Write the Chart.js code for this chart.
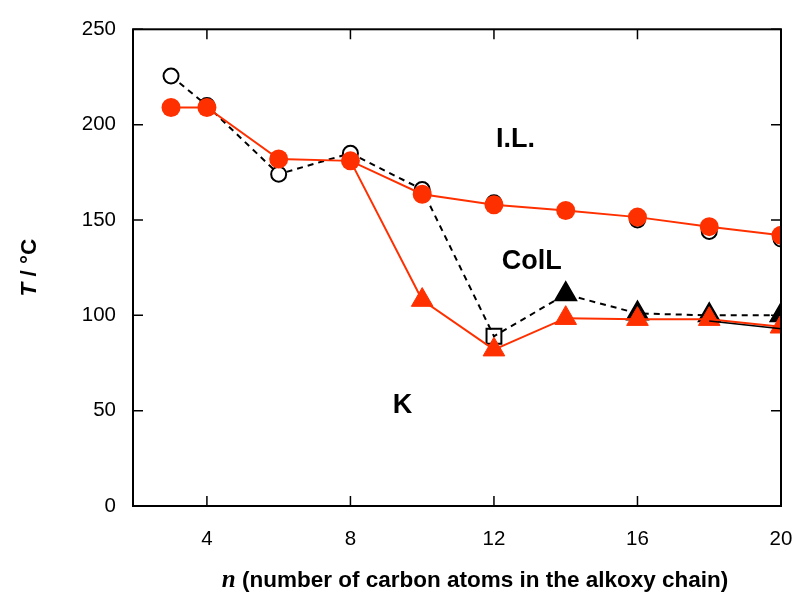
<!DOCTYPE html>
<html lang="en">
<head>
    <meta charset="UTF-8">
    <title>Phase diagram</title>
    <script src="https://cdn.jsdelivr.net/npm/chart.js"></script>
    <style>
        body {
            margin: 0;
            background-color: #ffffff;
        }
        #wrap {
            width: 797px;
            height: 603px;
        }
    </style>
</head>
<body>
    <div id="wrap"><canvas id="myChart" width="797" height="603"></canvas></div>
    <script>
        // carbon numbers
        const nAll = [3, 4, 6, 8, 10, 12, 14, 16, 18, 20];
        // open circles (clearing, first series)
        const clearOpen = [225.5, 210, 174, 185, 166, 159, 155, 150, 144, 140];
        // dashed black path (clearing then melting)
        const dashedT = [225.5, 210, 174, 185, 166, 89, 111, 101, 100, 100];
        // open square
        const squareN = [12];
        const squareT = [89];
        // black filled triangles
        const triBlackN = [14, 16, 18, 20];
        const triBlackT = [111, 101, 100, 100];
        // red filled circles
        const redCircT = [209, 209, 182, 181, 163.5, 158, 155, 151.5, 146.5, 142];
        // red triangles (line starts from red circle at n = 8)
        const redTriN = [8, 10, 12, 14, 16, 18, 20];
        const redTriT = [181, 108, 82, 98.5, 98, 98, 94];
        // black solid segment
        const solidN = [18, 20];
        const solidT = [97, 93];

        const xTicks = [4, 8, 12, 16, 20];
        const yTicks = [0, 50, 100, 150, 200, 250];

        const phaseLabels = ['I.L.', 'ColL', 'K'];
        const phaseN = [12.6, 13.05, 9.45];
        const phaseT = [192, 128, 52.5];

        const red = '#ff3000';
        const pts = (xs, ys) => xs.map((x, i) => ({ x: x, y: ys[i] }));

        const framePlugin = {
            id: 'frame',
            afterDatasetsDraw(chart) {
                const c = chart.ctx;
                const a = chart.chartArea;
                const sx = chart.scales.x, sy = chart.scales.y;
                c.save();
                c.strokeStyle = '#000';
                c.lineWidth = 2;
                c.strokeRect(a.left, a.top, a.right - a.left, a.bottom - a.top);
                c.lineWidth = 1.5;
                const len = 10;
                c.beginPath();
                xTicks.forEach(v => {
                    const px = sx.getPixelForValue(v);
                    c.moveTo(px, a.bottom); c.lineTo(px, a.bottom - len);
                    c.moveTo(px, a.top); c.lineTo(px, a.top + len);
                });
                yTicks.forEach(v => {
                    const py = sy.getPixelForValue(v);
                    c.moveTo(a.left, py); c.lineTo(a.left + len, py);
                    c.moveTo(a.right, py); c.lineTo(a.right - len, py);
                });
                c.stroke();

                // phase labels
                c.fillStyle = '#000';
                c.font = 'bold 27px "Liberation Sans", Arial, sans-serif';
                c.textAlign = 'center';
                c.textBaseline = 'middle';
                phaseLabels.forEach((t, i) => {
                    c.fillText(t, sx.getPixelForValue(phaseN[i]), sy.getPixelForValue(phaseT[i]));
                });

                // x title
                const xTitleSans = ' (number of carbon atoms in the alkoxy chain)';
                const fSans = 'bold 22.5px "Liberation Sans", Arial, sans-serif';
                const fSerif = 'italic bold 25px "Liberation Serif", "Times New Roman", serif';
                c.font = fSerif;
                const wN = c.measureText('n').width;
                c.font = fSans;
                const wRest = c.measureText(xTitleSans).width;
                const cx = (a.left + a.right) / 2 + 18;
                let x0 = cx - (wN + wRest) / 2;
                c.textAlign = 'left';
                c.textBaseline = 'alphabetic';
                c.font = fSerif;
                c.fillText('n', x0, 587);
                c.font = fSans;
                c.fillText(xTitleSans, x0 + wN, 587);

                // y title
                c.save();
                c.translate(36, (a.top + a.bottom) / 2);
                c.rotate(-Math.PI / 2);
                const fIt = 'italic bold 22.5px "Liberation Sans", Arial, sans-serif';
                const fUp = 'bold 22.5px "Liberation Sans", Arial, sans-serif';
                c.font = fIt;
                const wT = c.measureText('T').width;
                c.font = fUp;
                const wU = c.measureText(' / \u00B0C').width;
                let y0 = -(wT + wU) / 2;
                c.font = fIt;
                c.fillText('T', y0, 0);
                c.font = fUp;
                c.fillText(' / \u00B0C', y0 + wT, 0);
                c.restore();
                c.restore();
            }
        };

        const ctx = document.getElementById('myChart').getContext('2d');
        const myChart = new Chart(ctx, {
            type: 'scatter',
            data: {
                datasets: [
                    {
                        data: pts(nAll, dashedT),
                        showLine: true,
                        borderColor: '#000',
                        borderWidth: 2,
                        borderDash: [6, 5],
                        pointRadius: 0,
                        order: 6
                    },
                    {
                        data: pts(nAll, clearOpen),
                        showLine: false,
                        pointRadius: 7.5,
                        pointBorderWidth: 2,
                        pointBackgroundColor: '#fff',
                        pointBorderColor: '#000',
                        order: 5
                    },
                    {
                        data: pts(squareN, squareT),
                        showLine: false,
                        pointStyle: 'rect',
                        pointRadius: 10.5,
                        pointBorderWidth: 2,
                        pointBackgroundColor: 'rgba(255,255,255,0)',
                        pointBorderColor: '#000',
                        order: 5
                    },
                    {
                        data: pts(triBlackN, triBlackT),
                        showLine: false,
                        pointStyle: 'triangle',
                        pointRadius: 12,
                        pointBorderWidth: 2,
                        pointBackgroundColor: '#000',
                        pointBorderColor: '#000',
                        order: 4
                    },
                    {
                        data: pts(redTriN, redTriT),
                        showLine: true,
                        borderColor: red,
                        borderWidth: 2,
                        pointStyle: 'triangle',
                        pointRadius: [0, 12.5, 12.5, 12.5, 12.5, 12.5, 12.5],
                        pointBorderWidth: 1,
                        pointBackgroundColor: red,
                        pointBorderColor: red,
                        order: 3
                    },
                    {
                        data: pts(nAll, redCircT),
                        showLine: true,
                        borderColor: red,
                        borderWidth: 2,
                        pointRadius: 9.5,
                        pointBorderWidth: 0,
                        pointBackgroundColor: red,
                        pointBorderColor: red,
                        order: 2
                    },
                    {
                        data: pts(solidN, solidT),
                        showLine: true,
                        borderColor: '#000',
                        borderWidth: 1.5,
                        pointRadius: 0,
                        order: 1
                    }
                ]
            },
            options: {
                responsive: false,
                animation: false,
                events: [],
                layout: { padding: { top: 26, right: 0, left: 0, bottom: 0 } },
                plugins: {
                    legend: { display: false },
                    tooltip: { enabled: false }
                },
                scales: {
                    x: {
                        type: 'linear',
                        min: 1.94,
                        max: 20,
                        afterBuildTicks: s => { s.ticks = xTicks.map(v => ({ value: v })); },
                        afterFit: s => { s.height = 97; s.paddingRight = 16; },
                        grid: { display: false, drawTicks: false },
                        border: { display: false },
                        ticks: {
                            padding: 21,
                            color: '#000',
                            font: { family: '"Liberation Sans", Arial, sans-serif', size: 20.5 }
                        }
                    },
                    y: {
                        type: 'linear',
                        min: 0,
                        max: 250,
                        afterBuildTicks: s => { s.ticks = yTicks.map(v => ({ value: v })); },
                        afterFit: s => { s.width = 133; },
                        grid: { display: false, drawTicks: false },
                        border: { display: false },
                        ticks: {
                            padding: 17,
                            color: '#000',
                            font: { family: '"Liberation Sans", Arial, sans-serif', size: 20.5 }
                        }
                    }
                }
            },
            plugins: [framePlugin]
        });
    </script>
</body>
</html>
